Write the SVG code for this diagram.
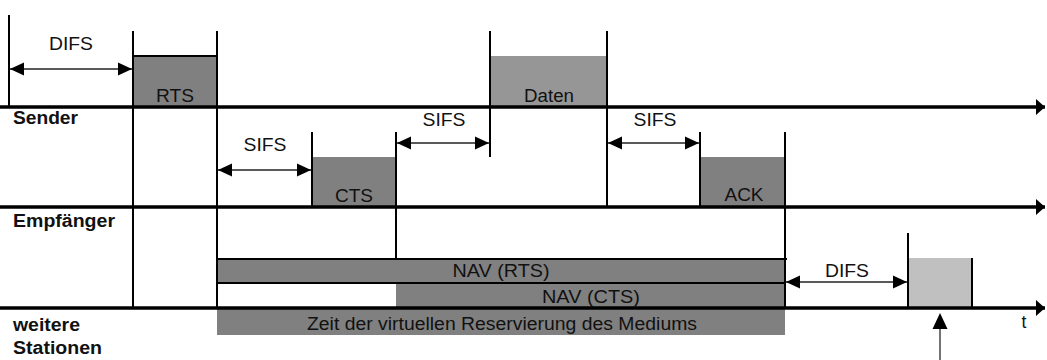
<svg xmlns="http://www.w3.org/2000/svg" width="1047" height="360" viewBox="0 0 1047 360">
<defs>
<marker id="ah" markerUnits="userSpaceOnUse" markerWidth="16" markerHeight="16" viewBox="0 0 16 16" refX="15" refY="8" orient="auto-start-reverse">
<path d="M1,1.5 L15,8 L1,14.5 Z" fill="#000"/>
</marker>
<marker id="ax" markerUnits="userSpaceOnUse" markerWidth="12" markerHeight="18" viewBox="0 0 12 18" refX="10" refY="9" orient="auto">
<path d="M1,1 L10,9 L1,17 Z" fill="#000"/>
</marker>
</defs>
<style>
.t{font-family:"Liberation Sans",Arial,sans-serif;font-size:17.5px;fill:#111;text-anchor:middle}
.b{font-family:"Liberation Sans",Arial,sans-serif;font-size:17.5px;font-weight:bold;fill:#111}
.ax{stroke:#000;stroke-width:3.5;fill:none}
.v{stroke:#000;stroke-width:2;fill:none}
.d{stroke:#222;stroke-width:1.5;fill:none;marker-start:url(#ah);marker-end:url(#ah)}
.dk{fill:#808080}
.lt{fill:#969696}
.lg{fill:#c0c0c0}
</style>
<rect width="1047" height="360" fill="#fff"/>

<g id="frames">
<rect class="dk" x="133" y="56" width="84" height="51"/>
<rect class="lt" x="490" y="56" width="117" height="51"/>
<rect class="dk" x="312" y="157" width="84" height="50"/>
<rect class="dk" x="700" y="157" width="84" height="50"/>
<rect class="dk" x="217" y="259" width="568" height="24"/>
<rect class="dk" x="396" y="283" width="389" height="25"/>
<rect class="dk" x="217" y="309" width="568" height="26"/>
<rect class="lg" x="908" y="258" width="64" height="50"/>
</g>

<g id="lines">
<line class="v" x1="9" y1="15" x2="9" y2="107"/>
<line class="v" x1="133" y1="31" x2="133" y2="308"/>
<line class="v" x1="217" y1="31" x2="217" y2="308"/>
<line class="v" x1="490" y1="31" x2="490" y2="157"/>
<line class="v" x1="607" y1="31" x2="607" y2="207"/>
<line class="v" x1="312" y1="132" x2="312" y2="207"/>
<line class="v" x1="396" y1="132" x2="396" y2="259"/>
<line class="v" x1="700" y1="132" x2="700" y2="207"/>
<line class="v" x1="785" y1="132" x2="785" y2="308"/>
<line class="v" x1="908" y1="233" x2="908" y2="308"/>
<line class="v" x1="972" y1="258" x2="972" y2="308"/>
<line class="v" x1="217" y1="259" x2="787" y2="259"/>
<line class="v" x1="217" y1="283" x2="785" y2="283"/>
<line class="v" x1="133" y1="56" x2="217" y2="56"/>
</g>

<g id="axes">
<line class="ax" x1="0" y1="107" x2="1045" y2="107" marker-end="url(#ax)"/>
<line class="ax" x1="0" y1="207" x2="1045" y2="207" marker-end="url(#ax)"/>
<line class="ax" x1="0" y1="308" x2="1045" y2="308" marker-end="url(#ax)"/>
</g>

<g id="connectors">
<line class="d" x1="10" y1="69" x2="132" y2="69"/>
<line class="d" x1="218" y1="170" x2="311" y2="170"/>
<line class="d" x1="397" y1="143" x2="489" y2="143"/>
<line class="d" x1="608" y1="143" x2="699" y2="143"/>
<line class="d" x1="786" y1="282" x2="907" y2="282"/>
<line x1="940" y1="360" x2="940" y2="316" stroke="#444" stroke-width="1.5"/>
<path d="M940,313 L932.5,329 L947.5,329 Z" fill="#000"/>
</g>

<g id="labels">
<text class="t" x="71" y="50" textLength="44" lengthAdjust="spacingAndGlyphs">DIFS</text>
<text class="t" x="175" y="102" textLength="38" lengthAdjust="spacingAndGlyphs">RTS</text>
<text class="t" x="549" y="102" textLength="50" lengthAdjust="spacingAndGlyphs">Daten</text>
<text class="t" x="265" y="151" textLength="43" lengthAdjust="spacingAndGlyphs">SIFS</text>
<text class="t" x="444" y="126" textLength="43" lengthAdjust="spacingAndGlyphs">SIFS</text>
<text class="t" x="655" y="126" textLength="43" lengthAdjust="spacingAndGlyphs">SIFS</text>
<text class="t" x="354" y="202" textLength="38" lengthAdjust="spacingAndGlyphs">CTS</text>
<text class="t" x="744" y="201" textLength="39" lengthAdjust="spacingAndGlyphs">ACK</text>
<text class="t" x="501" y="277" textLength="97" lengthAdjust="spacingAndGlyphs">NAV (RTS)</text>
<text class="t" x="591" y="303" textLength="98" lengthAdjust="spacingAndGlyphs">NAV (CTS)</text>
<text class="t" x="502" y="330" textLength="390" lengthAdjust="spacingAndGlyphs">Zeit der virtuellen Reservierung des Mediums</text>
<text class="t" x="847" y="277" textLength="44" lengthAdjust="spacingAndGlyphs">DIFS</text>
<text class="t" x="1024" y="328">t</text>
<text class="b" x="13" y="124" textLength="65" lengthAdjust="spacingAndGlyphs">Sender</text>
<text class="b" x="13" y="227" textLength="102" lengthAdjust="spacingAndGlyphs">Empfänger</text>
<text class="b" x="13" y="331" textLength="67" lengthAdjust="spacingAndGlyphs">weitere</text>
<text class="b" x="13" y="354" textLength="89" lengthAdjust="spacingAndGlyphs">Stationen</text>
</g>
</svg>
